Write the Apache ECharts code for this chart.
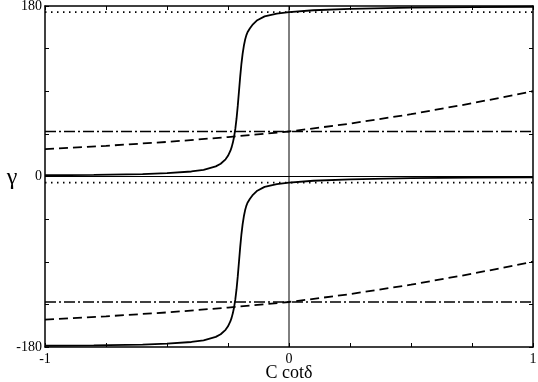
<!DOCTYPE html>
<html>
<head>
<meta charset="utf-8">
<script src="https://cdn.jsdelivr.net/npm/echarts@6/dist/echarts.min.js"></script>
<style>html,body{margin:0;padding:0;background:#fff;}#c{width:538px;height:382px;}</style>
</head>
<body>
<div id="c"></div>
<script>
// Solid curve (upper and lower branches)
const solidX = [-1, -0.8, -0.6, -0.5, -0.4, -0.35, -0.3, -0.28, -0.26, -0.25, -0.24, -0.235, -0.23, -0.225, -0.22, -0.215, -0.21, -0.205, -0.2, -0.195, -0.19, -0.185, -0.18, -0.175, -0.17, -0.16, -0.15, -0.13, -0.1, -0.05, 0, 0.1, 0.25, 0.5, 0.75, 1];
const solidUpper = [1.3, 1.7, 2.6, 3.5, 5.3, 7.1, 10.7, 13.5, 18.1, 21.8, 27.2, 31.0, 35.8, 42.0, 50.2, 61.0, 74.5, 90, 105.5, 119.0, 129.8, 138.0, 144.3, 149.0, 152.3, 156.5, 160.0, 165.0, 169.0, 172.0, 173.5, 175.5, 177.0, 178.3, 178.8, 179.2];
const solidLower = [-178.7, -178.3, -177.4, -176.5, -174.7, -172.9, -169.3, -166.5, -161.9, -158.2, -152.8, -149.0, -144.2, -138.0, -129.8, -119.0, -105.5, -90, -74.5, -61.0, -50.2, -42.0, -35.7, -31.0, -27.7, -23.5, -20.0, -15.0, -11.0, -8.0, -6.5, -4.5, -3.0, -1.7, -1.2, -0.8];
// Dashed curve (upper and lower branches)
const dashX = [-1, -0.75, -0.5, -0.25, 0, 0.25, 0.5, 0.75, 1];
const dashUpper = [28.8, 32.4, 36.5, 41.6, 47.5, 55.8, 65.8, 77.3, 90.0];
const dashLower = [-151.2, -147.6, -143.5, -138.4, -132.5, -124.2, -114.2, -102.7, -90.0];
// Horizontal reference levels
const dottedLevels = [173.5, -6.5];
const dashDotLevels = [47.5, -132.5];
// Axis ticks
const xTickLabels = [-1, 0, 1];
const yTickLabels = [-180, 0, 180];
const xTitle = 'C cotδ';
const yTitle = 'γ';

const font = 'Liberation Serif, Times New Roman, serif';
const pairs = (xs, ys) => xs.map((x, i) => [x, ys[i]]);
const black = '#000';

const series = [];
function addLine(data, width, dash, z) {
  series.push({
    type: 'line', data: data, showSymbol: false, symbol: 'none', smooth: false,
    lineStyle: { color: black, width: width, type: dash },
    z: z, silent: true, animation: false, clip: true
  });
}
// zero lines
addLine([[-1, 0], [1, 0]], 1, 'solid', 1);
addLine([[0, -180], [0, 180]], 1, 'solid', 1);
dottedLevels.forEach(v => addLine([[-1, v], [1, v]], 1.6, [1.5, 4.5], 2));
dashDotLevels.forEach(v => addLine([[-1, v], [1, v]], 1.5, [11, 3, 2, 3], 2));
addLine(pairs(dashX, dashUpper), 1.8, [9, 5], 3);
addLine(pairs(dashX, dashLower), 1.8, [9, 5], 3);
addLine(pairs(solidX, solidUpper), 1.8, 'solid', 4);
addLine(pairs(solidX, solidLower), 1.8, 'solid', 4);

const xBase = {
  type: 'value', min: -1, max: 1, interval: 0.25,
  axisLine: { show: true, onZero: false, lineStyle: { color: black, width: 1.5 } },
  axisTick: { show: true, inside: true, length: 4, lineStyle: { color: black, width: 1 } },
  splitLine: { show: false }
};
const yBase = {
  type: 'value', min: -180, max: 180, interval: 45,
  axisLine: { show: true, onZero: false, lineStyle: { color: black, width: 1.5 } },
  axisTick: { show: true, inside: true, length: 4, lineStyle: { color: black, width: 1 } },
  splitLine: { show: false }
};

const chart = echarts.init(document.getElementById('c'), null, { renderer: 'canvas' });
chart.setOption({
  animation: false,
  backgroundColor: '#fff',
  grid: { left: 45, right: 5, top: 6, bottom: 35, containLabel: false, outerBoundsMode: 'none' },
  xAxis: [
    Object.assign({}, xBase, {
      position: 'bottom',
      axisLabel: {
        show: true, margin: 5, fontFamily: font, fontSize: 14, color: black,
        formatter: v => xTickLabels.indexOf(Math.round(v * 100) / 100) >= 0 ? String(Math.round(v)) : ''
      }
    }),
    Object.assign({}, xBase, { position: 'top', axisLabel: { show: false } })
  ],
  yAxis: [
    Object.assign({}, yBase, {
      position: 'left',
      axisLabel: {
        show: true, margin: 3, fontFamily: font, fontSize: 14, color: black,
        formatter: v => yTickLabels.indexOf(Math.round(v)) >= 0 ? String(Math.round(v)) : ''
      }
    }),
    Object.assign({}, yBase, { position: 'right', axisLabel: { show: false } })
  ],
  graphic: [
    { type: 'text', x: 12, y: 178,
      style: { text: yTitle, fontFamily: font, fontSize: 24, fill: black, align: 'center', verticalAlign: 'middle' } },
    { type: 'text', x: 289, y: 373,
      style: { text: xTitle, fontFamily: font, fontSize: 18, fill: black, align: 'center', verticalAlign: 'middle' } }
  ],
  series: series
});
</script>
</body>
</html>
